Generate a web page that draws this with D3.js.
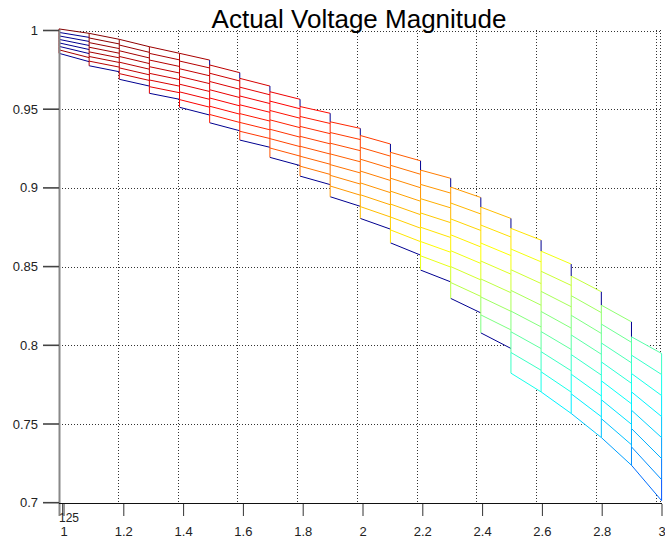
<!DOCTYPE html>
<html><head><meta charset="utf-8">
<script src="https://cdn.jsdelivr.net/npm/d3@7"></script>
<style>
html,body{margin:0;padding:0;background:#fff;}
svg{display:block;font-family:"Liberation Sans",Arial,sans-serif;}
</style>
</head><body>
<svg id="chart" width="665" height="544"></svg>
<script>
// Feeder bus positions (mesh nodes along the line)
const busPos = [1.0,1.1,1.2,1.3,1.4,1.5,1.6,1.7,1.8,1.9,2.0,2.1,2.2,2.3,2.4,2.5,2.6,2.7,2.8,2.9,3.0];
// Voltage of the lightest load case at the start / end of each section
const topStart = [1.001,0.9982,0.9944,0.9897,0.9855,0.9781,0.9696,0.9611,0.9517,0.9420,0.9333,0.9226,0.9113,0.9005,0.8878,0.8743,0.8598,0.8440,0.8255,0.8054];
const topEnd   = [0.9982,0.9944,0.9897,0.9855,0.9812,0.9732,0.9647,0.9563,0.9474,0.9378,0.9279,0.9172,0.9061,0.8939,0.8806,0.8668,0.8516,0.8340,0.8149,0.7948];
// Voltage of the heaviest load case at the start / end of each section
const bottomStart = [0.9855,0.9776,0.9690,0.9601,0.9512,0.9414,0.9304,0.9194,0.9075,0.8944,0.8806,0.8651,0.8478,0.8298,0.8079,0.7823,0.7704,0.7567,0.7414,0.7238];
const bottomEnd   = [0.9802,0.9738,0.9647,0.9563,0.9463,0.9363,0.9258,0.9142,0.9021,0.8883,0.8738,0.8573,0.8403,0.8206,0.7980,0.7704,0.7567,0.7414,0.7238,0.7013];
// Load cases (0 = lightest, 7 = heaviest)
const loadLevels = [0,1,2,3,4,5,6,7];

const zTicks = [0.7,0.75,0.8,0.85,0.9,0.95,1];
const zTickLabels = ["0.7","0.75","0.8","0.85","0.9","0.95","1"];
const xTicks = [1,1.2,1.4,1.6,1.8,2,2.2,2.4,2.6,2.8,3];
const xTickLabels = ["1","1.2","1.4","1.6","1.8","2","2.2","2.4","2.6","2.8","3"];
const titleText = "Actual Voltage Magnitude";

const svg = d3.select("#chart");
svg.append("rect").attr("width",665).attr("height",544).attr("fill","#fff");

// scales: mesh, back-wall grid, front axis
const y = d3.scaleLinear().domain([0.7,1]).range([502.7,30.5]);
const xMesh = d3.scaleLinear().domain([1,3]).range([59,661.6]);
const xGrid = d3.scaleLinear().domain([1,3]).range([58,655.7]);
const xAxisS = d3.scaleLinear().domain([1,3]).range([64,662]);

// jet colour map over the voltage range
const cLo = 0.64, cHi = 1.0;
const clamp = v => Math.max(0, Math.min(1, v));
function jet(v){
  const t = clamp((v - cLo)/(cHi - cLo));
  const r = clamp(1.5 - Math.abs(4*t-3)), g = clamp(1.5 - Math.abs(4*t-2)), b = clamp(1.5 - Math.abs(4*t-1));
  return d3.rgb(Math.round(r*255), Math.round(g*255), Math.round(b*255)).formatHex();
}
const edgeBlue = "#000090";

// dotted grid on the back wall
const grid = svg.append("g").attr("stroke","#333").attr("stroke-width",1).attr("stroke-dasharray","1,2").attr("fill","none").attr("shape-rendering","crispEdges");
zTicks.forEach(z => {
  grid.append("line").attr("x1",59).attr("x2",660).attr("y1",Math.round(y(z))+0.5).attr("y2",Math.round(y(z))+0.5);
});
xTicks.slice(1).forEach(v => {
  grid.append("line").attr("x1",Math.round(xGrid(v))+0.5).attr("x2",Math.round(xGrid(v))+0.5).attr("y1",30).attr("y2",503);
});
grid.append("line").attr("x1",660.5).attr("x2",660.5).attr("y1",30).attr("y2",503);

// mesh: opaque white faces then coloured edges
const mesh = svg.append("g").attr("fill","none").attr("stroke-width",1);
const nCol = topStart.length;
const frac = k => k/(loadLevels.length-1);
const rowStart = (i,k) => topStart[i] + (bottomStart[i]-topStart[i])*frac(k);
const rowEnd = (i,k) => topEnd[i] + (bottomEnd[i]-topEnd[i])*frac(k);

for (let i=0;i<nCol;i++){
  const x0 = xMesh(busPos[i]), x1 = xMesh(busPos[i+1]);
  mesh.append("path")
    .attr("d", `M${x0},${y(topStart[i])}L${x1},${y(topEnd[i])}L${x1},${y(bottomEnd[i])}L${x0},${y(bottomStart[i])}Z`)
    .attr("fill","#fff").attr("stroke","none");
}
for (let i=0;i<nCol;i++){
  const x0 = xMesh(busPos[i]), x1 = xMesh(busPos[i+1]);
  loadLevels.forEach(k => {
    const vs = rowStart(i,k), ve = rowEnd(i,k);
    let col = jet(vs);
    if (k === loadLevels.length-1 && i < 15) col = edgeBlue;
    if (i === 0 && k > 0 && k < 6) col = edgeBlue;
    mesh.append("line").attr("x1",x0).attr("y1",y(vs)).attr("x2",x1).attr("y2",y(ve)).attr("stroke",col);
  });
  // vertical edges at the section start
  if (i > 0 && topEnd[i-1] > topStart[i]) {
    mesh.append("line").attr("x1",x0).attr("x2",x0).attr("y1",y(topEnd[i-1])).attr("y2",y(topStart[i])).attr("stroke",edgeBlue);
  }
  for (let k=0;k<loadLevels.length-1;k++){
    const a = rowStart(i,k), b = rowStart(i,k+1);
    mesh.append("line").attr("x1",x0).attr("x2",x0).attr("y1",y(a)).attr("y2",y(b)).attr("stroke",jet(a));
  }
}
// closing edge at the far end
{
  const i = nCol-1, xe = xMesh(busPos[nCol]);
  for (let k=0;k<loadLevels.length-1;k++){
    const a = rowEnd(i,k), b = rowEnd(i,k+1);
    mesh.append("line").attr("x1",xe).attr("x2",xe).attr("y1",y(a)).attr("y2",y(b)).attr("stroke",jet(a));
  }
}

// axes
const ax = svg.append("g");
ax.append("line").attr("x1",59.5).attr("x2",59.5).attr("y1",30).attr("y2",516).attr("stroke","#888").attr("stroke-width",2);
ax.append("line").attr("x1",59).attr("x2",662).attr("y1",503.5).attr("y2",503.5).attr("stroke","#111").attr("stroke-width",1);
ax.append("line").attr("x1",62.5).attr("x2",62.5).attr("y1",504).attr("y2",515).attr("stroke","#555").attr("stroke-width",1);
zTicks.forEach((z,i) => {
  ax.append("line").attr("x1",43).attr("x2",59).attr("y1",y(z)).attr("y2",y(z)).attr("stroke","#444").attr("stroke-width",1.6);
  ax.append("text").attr("x",38).attr("y",y(z)+4.5).attr("text-anchor","end").attr("font-size",13).attr("fill","#222").text(zTickLabels[i]);
});
xTicks.forEach((v,i) => {
  const px = xAxisS(v);
  ax.append("line").attr("x1",px).attr("x2",px).attr("y1",504).attr("y2",516).attr("stroke","#333").attr("stroke-width",1);
  ax.append("text").attr("x",px).attr("y",536).attr("text-anchor","middle").attr("font-size",13).attr("fill","#222").text(xTickLabels[i]);
});
ax.append("text").attr("x",59).attr("y",522).attr("font-size",12).attr("fill","#222").text("125");

svg.append("text").attr("x",359).attr("y",28).attr("text-anchor","middle").attr("font-size",26).attr("fill","#000").text(titleText);
</script>
</body></html>
